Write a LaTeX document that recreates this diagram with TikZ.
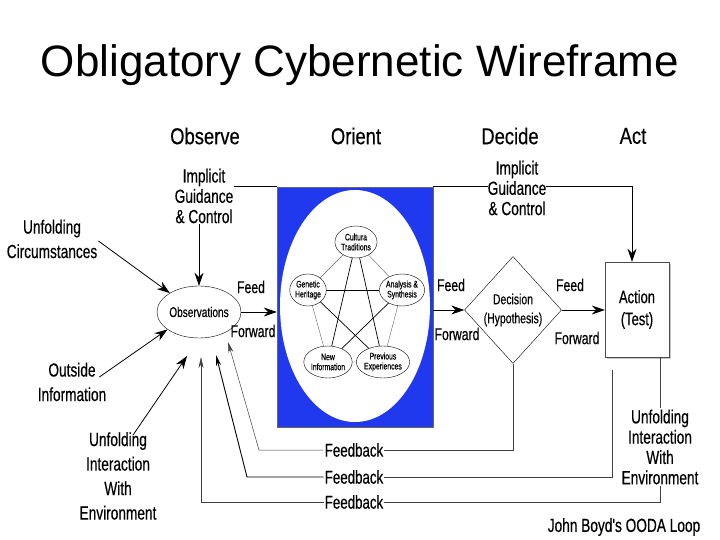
\documentclass[tikz,border=0pt]{standalone}
\usepackage{fontspec}
\setmainfont{Liberation Sans}
\newfontfamily\narrowfont[FakeStretch=0.8, FakeBold=0.4]{Liberation Sans}
\newfontfamily\condfont[FakeStretch=0.72, FakeBold=0.4]{Liberation Sans}
\usetikzlibrary{positioning, arrows.meta, shapes.geometric, calc, shadows}

\definecolor{orientblue}{RGB}{32,56,238}

\begin{document}
\begin{tikzpicture}[x=1pt, y=-1pt,
    lbl/.style={font=\condfont\fontsize{19}{24.5}\selectfont, align=center, inner sep=1pt},
    tightlbl/.style={font=\condfont\fontsize{19}{20.3}\selectfont, align=center, inner sep=1pt},
    flow/.style={font=\condfont\fontsize{17}{20}\selectfont, inner sep=1pt},
    phase/.style={font=\narrowfont\fontsize{23}{26}\selectfont},
    fbtext/.style={font=\condfont\fontsize{18.5}{20}\selectfont, inner sep=1pt},
    orientnode/.style={ellipse, draw, fill=white, minimum width=36pt, minimum height=32pt,
                  inner sep=0pt, font=\condfont\fontsize{9.5}{10}\selectfont, align=center},
    arrow/.style={-{Stealth[length=13pt, width=9pt]}, line width=0.8pt},
    fbarrow/.style={-{Stealth[length=11pt, width=5pt]}, line width=0.5pt},
    fbline/.style={line width=0.6pt, black!75}
]
    \useasboundingbox (0,0) rectangle (720,540);

    % Title and phase headings
    \node[font=\fontsize{44}{48}\selectfont, anchor=base] (title) at (360,77) {Obligatory Cybernetic Wireframe};
    \node[phase] (observe) at (205,136) {Observe};
    \node[phase] (orient) at (356,136) {Orient};
    \node[phase] (decide) at (510,136) {Decide};
    \node[phase] (act) at (633,136) {Act};

    % Orient block
    \node[rectangle, fill=orientblue, draw=black!60, minimum width=156pt, minimum height=240pt,
          inner sep=0pt] (blue) at (355,307) {};
    \begin{scope}
        \clip (blue.north west) rectangle (blue.south east);
        \fill[white] (355,306) ellipse [x radius=75, y radius=116];
    \end{scope}

    \node[orientnode] (cult) at (356,242) {Cultura\\Traditions};
    \node[orientnode] (gene) at (308,290) {Genetic\\Heritage};
    \node[orientnode] (anal) at (402,290) {Analysis \&\\Synthesis};
    \node[orientnode] (newi) at (328,362) {New\\Information};
    \node[orientnode] (prev) at (383,362) {Previous\\Experiences};

    % pentagon
    \draw[black!60, line width=0.4pt] (cult) -- (gene) -- (newi) -- (prev) -- (anal) -- (cult);
    % star
    \draw[line width=0.7pt] (cult) -- (newi);
    \draw[line width=0.7pt] (cult) -- (prev);
    \draw[line width=0.7pt] (gene) -- (anal);
    \draw[line width=0.7pt] (gene) -- (prev);
    \draw[line width=0.7pt] (anal) -- (newi);

    % Observe
    \node[ellipse, draw, minimum width=72pt, minimum height=52pt, inner sep=0pt,
          font=\condfont\fontsize{14}{16}\selectfont] (obs) at (199,312) {Observations};
    \node[tightlbl] (igcL) at (204,196) {Implicit\\Guidance\\\& Control};
    \node[lbl] (uc) at (52,239) {Unfolding\\Circumstances};
    \node[lbl] (oi) at (72,382) {Outside\\Information};
    \node[lbl] (uieL) at (118,476) {Unfolding\\Interaction\\With\\Environment};

    \draw[arrow] (igcL.south -| obs.north) -- (obs.north);
    \draw[arrow] ([yshift=-2pt]uc.east) -- (obs.147);
    \draw[arrow] ([xshift=-8pt, yshift=5pt]oi.east) -- (obs.209);
    \coordinate (inA) at (187,356);
    \draw[arrow] ([xshift=15pt, yshift=-4pt]uieL.north) -- (inA);

    \node[flow] (feed1) at (251,287) {Feed};
    \node[flow] (fwd1) at (253,331) {Forward};
    \draw[arrow] (obs.east) -- (obs.east -| blue.west);

    % Decide
    \node[diamond, draw, minimum width=97pt, minimum height=107pt, inner sep=0pt,
          font=\condfont\fontsize{14.5}{19}\selectfont, align=center] (dec) at (513,310)
          {Decision\\(Hypothesis)};
    \node[flow] (feed2) at (451,285) {Feed};
    \node[flow] (fwd2) at (457,334) {Forward};
    \draw[arrow] (dec.west -| blue.east) -- (dec.west);

    % Act
    \node[rectangle, draw=black!70, fill=white, minimum width=64pt, minimum height=95pt,
          drop shadow={shadow xshift=2pt, shadow yshift=-2pt, fill=black!45},
          font=\condfont\fontsize{18}{22}\selectfont, align=center] (action) at (637,309.5)
          {Action\\(Test)};
    \node[flow] (feed3) at (570,285) {Feed};
    \node[flow] (fwd3) at (577,338) {Forward};
    \draw[arrow] (dec.east) -- (dec.east -| action.west);

    % Implicit guidance from orient
    \draw[line width=0.6pt] (blue.north west) -- (blue.north west -| igcL.east);
    \coordinate (actin) at ([xshift=-5pt]action.north);
    \draw[arrow] (blue.north east) -- (blue.north east -| actin) -- (actin);
    \node[tightlbl, fill=white, inner sep=0pt] (igcR) at (517,188) {Implicit\\Guidance\\\& Control};

    % Feedback loops
    \node[tightlbl] (uieR) at (660,447) {Unfolding\\Interaction\\With\\Environment};
    \draw[fbline] (action.south -| uieR.north) -- (uieR.north);

    \node[fbtext] (fb1) at (354,450) {Feedback};
    \node[fbtext] (fb2) at (354,477) {Feedback};
    \node[fbtext] (fb3) at (354,502) {Feedback};

    \coordinate (inB) at (228,342);
    \coordinate (inC) at (216,355);
    \coordinate (inD) at (201,357);
    \coordinate (envtop) at (612,370);

    \draw[fbline] (dec.south) -- (dec.south |- fb1.east) -- (fb1.east);
    \draw[fbline] (envtop) -- (envtop |- fb2.east) -- (fb2.east);
    \draw[fbline] (uieR.south) -- (uieR.south |- fb3.east) -- (fb3.east);

    \draw[fbarrow, black!75] (fb1.west) -- (259,450) -- (inB);
    \draw[fbarrow, line width=0.9pt] (fb2.west) -- (247,477) -- (inC);
    \draw[fbarrow, black!75] (fb3.west) -- (201,502) -- (inD);

    \node[lbl] (ooda) at (624,527) {John Boyd's OODA Loop};
\end{tikzpicture}
\end{document}
